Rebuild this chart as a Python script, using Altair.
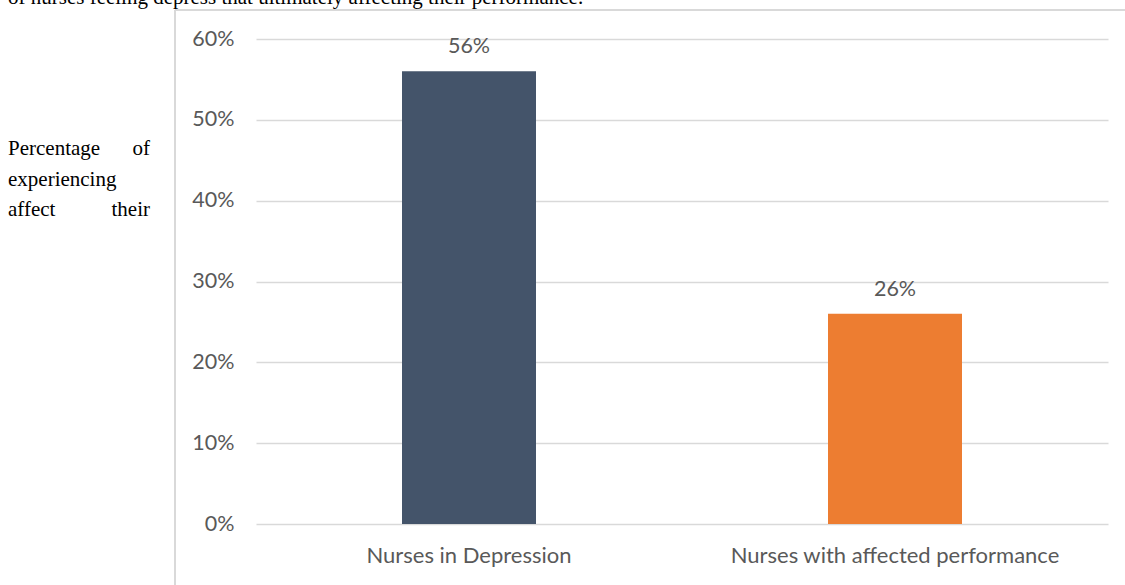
import altair as alt
import pandas as pd

categories = ["Nurses in Depression", "Nurses with affected performance"]
values = [56, 26]
colors = ["#44546A", "#ED7D31"]
labels = ["56%", "26%"]

top_text = ["of nurses feeling depress that ultimately affecting their performance."]
side_left = ["Percentage", "experiencing", "affect"]
side_right = ["of", "their"]

df = pd.DataFrame({"cat": categories, "val": values, "color": colors, "label": labels})

W, H = 852, 485
PL, PT = 256, 39

x = alt.X("cat:N", sort=categories, title=None,
          scale=alt.Scale(paddingInner=0.0, paddingOuter=0.0),
          axis=alt.Axis(labelAngle=0, labelFont="Lato", labelFontSize=22, labelColor="#595959",
                        labelPadding=21, labelLimit=0, ticks=False, domain=False, grid=False))
y = alt.Y("val:Q", title=None,
          scale=alt.Scale(domain=[0, 60]),
          axis=alt.Axis(values=[0, 10, 20, 30, 40, 50, 60], labelExpr="datum.value + '%'",
                        labelFont="Lato", labelFontSize=21.5, labelColor="#595959",
                        labelPadding=22, ticks=False, domain=False,
                        gridColor="#D9D9D9", gridWidth=1.3))

base = alt.Chart(df)
bars = base.mark_bar(size=134).encode(x=x, y=y, color=alt.Color("color:N", scale=None))
txt = base.mark_text(dy=-24, font="Lato", fontSize=21.5, color="#595959", baseline="middle").encode(
    x=alt.X("cat:N", sort=categories), y="val:Q", text="label:N")

serif = "Liberation Serif"
top = alt.Chart(pd.DataFrame({"t": top_text})).mark_text(
    font=serif, fontSize=21, color="#000000", align="left", baseline="alphabetic").encode(
    x=alt.value(8 - PL), y=alt.value(4 - PT), text="t:N")

left_df = pd.DataFrame({"t": side_left, "yy": [155 - PT, 185.5 - PT, 216 - PT]})
left = alt.Chart(left_df).mark_text(
    font=serif, fontSize=21, color="#000000", align="left", baseline="alphabetic").encode(
    x=alt.value(8 - PL), y=alt.Y("yy:Q", scale=None), text="t:N")
right_df = pd.DataFrame({"t": side_right, "yy": [155 - PT, 216 - PT]})
right = alt.Chart(right_df).mark_text(
    font=serif, fontSize=21, color="#000000", align="right", baseline="alphabetic").encode(
    x=alt.value(150 - PL), y=alt.Y("yy:Q", scale=None), text="t:N")

border_v = alt.Chart(df).mark_rule(color="#D9D9D9", strokeWidth=2).encode(
    x=alt.value(175 - PL), y=alt.value(10 - PT), y2=alt.value(700))
border_h = alt.Chart(df).mark_rule(color="#D9D9D9", strokeWidth=2).encode(
    x=alt.value(175 - PL), x2=alt.value(1200), y=alt.value(10 - PT))

chart = alt.layer(bars, txt, top, left, right, border_v, border_h).properties(
    width=W, height=H,
    autosize=alt.AutoSizeParams(type="none"),
    padding={"left": PL, "top": PT, "right": 1125 - PL - W, "bottom": 585 - PT - H},
    background="white",
).configure_view(stroke=None)

chart.save("out.html", embed_options={"renderer": "svg", "actions": False})
